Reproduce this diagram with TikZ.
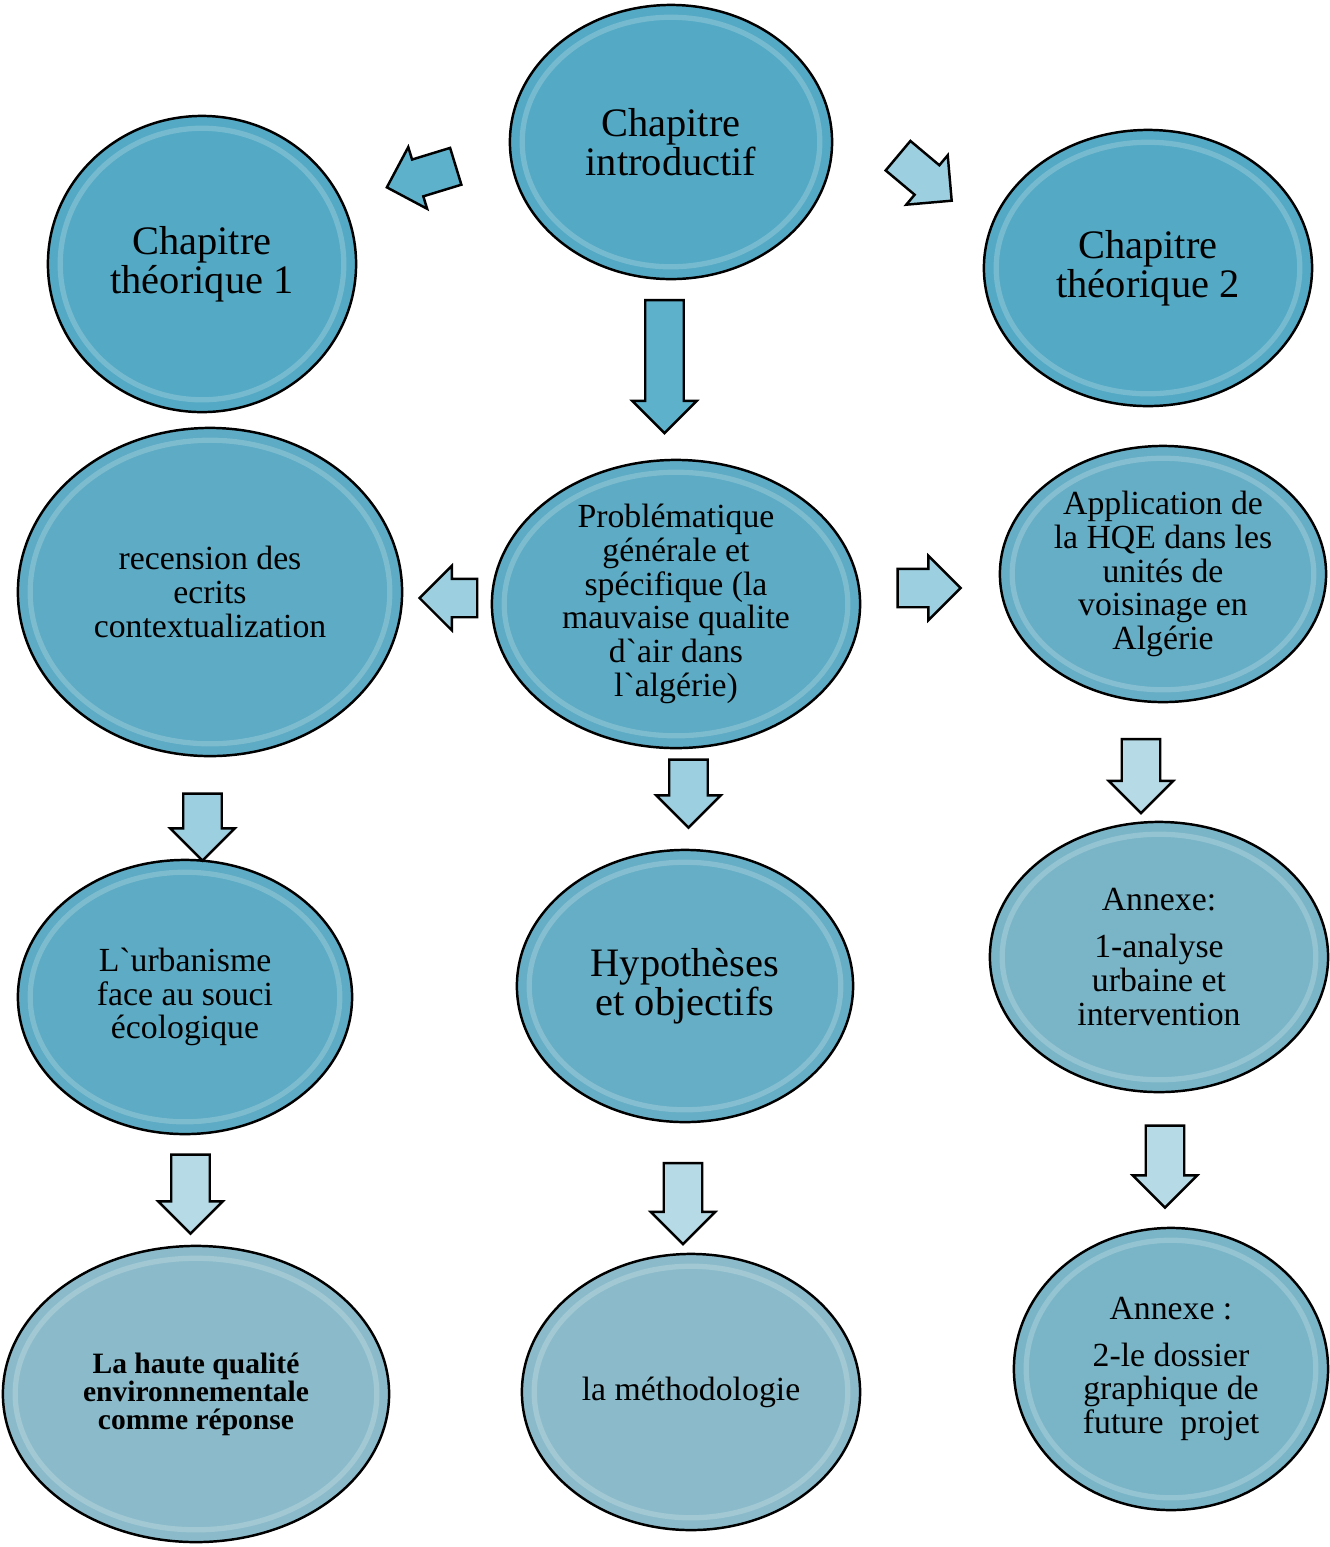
\documentclass[tikz,border=0pt]{standalone}
\usepackage{fontspec}
\setmainfont{Liberation Serif}
\usepackage{tikz}
\usetikzlibrary{positioning, calc, shapes.geometric, shapes.arrows}
\definecolor{BubA}{HTML}{54A9C4}
\definecolor{BubB}{HTML}{5DABC4}
\definecolor{BubC}{HTML}{66AEC5}
\definecolor{BubD}{HTML}{7AB5C7}
\definecolor{BubE}{HTML}{8BBBCA}
\definecolor{ArrA}{HTML}{5EB1CB}
\definecolor{ArrB}{HTML}{9CCFDF}
\definecolor{ArrC}{HTML}{B6DAE6}
\lineskiplimit=-100pt

\begin{document}
\begin{tikzpicture}[x=0.01cm, y=-0.01cm,
  bubble/.style={ellipse, draw=black, line width=0.7pt, inner sep=0pt, align=center,
                 path picture={\draw[white, opacity=0.2, line width=1.5pt]
                   let \p1=($(path picture bounding box.north east)-(path picture bounding box.center)$) in
                   (path picture bounding box.center) ellipse [x radius=\x1-3.5pt, y radius=\y1-3.5pt];}},
  bigtxt/.style={font=\fontsize{11.5}{11.1}\selectfont},
  midtxt/.style={font=\fontsize{9.6}{9.6}\selectfont},
  boldtxt/.style={font=\fontsize{8.4}{8}\selectfont\bfseries},
  blockarr/.style={single arrow, draw=black, line width=0.7pt, inner sep=0.18cm,
                   minimum width=0.62cm, single arrow head extend=0.13cm,
                   single arrow tip angle=90},
]
  \useasboundingbox (0,0) rectangle (1330,1547);

  % top row
  \node[bubble, bigtxt, fill=BubA, minimum width=3.22cm, minimum height=2.74cm] (intro) at (671,142) {Chapitre\\introductif};
  \node[bubble, bigtxt, fill=BubA, minimum width=3.08cm, minimum height=2.96cm] (th1) at (202,264) {Chapitre\\théorique 1};
  \node[bubble, bigtxt, fill=BubA, minimum width=3.28cm, minimum height=2.76cm] (th2) at (1148,268) {Chapitre\\théorique 2};

  % second row
  \node[bubble, midtxt, fill=BubB, minimum width=3.84cm, minimum height=3.28cm] (rec) at (210,592) {recension des\\ecrits\\contextualization};
  \node[bubble, midtxt, fill=BubB, minimum width=3.68cm, minimum height=2.88cm] (prob) at (676,604) {Problématique\\générale et\\spécifique (la\\mauvaise qualite\\d\textasciigrave air dans\\l\textasciigrave algérie)};
  \node[bubble, midtxt, fill=BubC, minimum width=3.26cm, minimum height=2.56cm] (app) at (1163,574) {Application de\\la HQE dans les\\unités de\\voisinage en\\Algérie};

  % third row
  \node[bubble, midtxt, fill=BubB, minimum width=3.34cm, minimum height=2.74cm] (urb) at (185,997) {L\textasciigrave urbanisme\\face au souci\\écologique};
  \node[bubble, bigtxt, fill=BubC, minimum width=3.36cm, minimum height=2.72cm] (hyp) at (685,986) {Hypothèses\\et objectifs};
  \node[bubble, midtxt, fill=BubD, minimum width=3.38cm, minimum height=2.70cm] (ann1) at (1159,957) {Annexe:\\[0.13cm]1-analyse\\urbaine et\\intervention};

  % bottom row
  \node[bubble, boldtxt, fill=BubE, minimum width=3.86cm, minimum height=2.96cm] (hqe) at (196,1394) {La haute qualité\\environnementale\\comme réponse};
  \node[bubble, midtxt, fill=BubE, minimum width=3.38cm, minimum height=2.76cm] (meth) at (691,1392) {la méthodologie};
  \node[bubble, midtxt, fill=BubD, minimum width=3.14cm, minimum height=2.82cm] (ann2) at (1171,1369) {Annexe :\\[0.13cm]2-le dossier\\graphique de\\future~~projet};

  % block arrows
  \node[blockarr, fill=ArrA, minimum height=0.72cm, rotate=197] (toth1) at ($(intro)!0.5!(th1)+(-6,-29)$) {};
  \node[blockarr, fill=ArrB, minimum height=0.70cm, rotate=-40] (toth2) at ($(intro)!0.5!(th2)+(8,-33)$) {};
  \node[blockarr, fill=ArrA, minimum height=1.33cm, rotate=-90] (toprob) at ($(intro)!0.5!(prob)+(-9,-16)$) {};
  \node[blockarr, fill=ArrB, minimum height=0.56cm, rotate=180] (torec) at ($(prob)!0.5!(rec)+(15,0)$) {};
  \node[blockarr, fill=ArrB, minimum height=0.63cm] (toapp) at ($(prob)!0.5!(app)+(0,-1)$) {};
  \node[blockarr, fill=ArrB, minimum height=0.68cm, rotate=-90] (tohyp) at ($(prob)!0.5!(hyp)+(8,-11)$) {};
  \node[blockarr, fill=ArrC, minimum height=0.74cm, rotate=-90] (toann1) at ($(app)!0.5!(ann1)+(-20,1)$) {};
  \node[blockarr, fill=ArrB, minimum height=0.67cm, rotate=-90] (tourb) at ($(rec)!0.5!(urb)+(5,23)$) {};
  \node[blockarr, fill=ArrC, minimum height=0.79cm, rotate=-90] (tohqe) at ($(urb)!0.5!(hqe)+(0,-11)$) {};
  \node[blockarr, fill=ArrC, minimum height=0.81cm, rotate=-90] (tometh) at ($(hyp)!0.5!(meth)+(-5,5)$) {};
  \node[blockarr, fill=ArrC, minimum height=0.82cm, rotate=-90] (toann2) at ($(ann1)!0.5!(ann2)+(0,-6)$) {};
\end{tikzpicture}
\end{document}
